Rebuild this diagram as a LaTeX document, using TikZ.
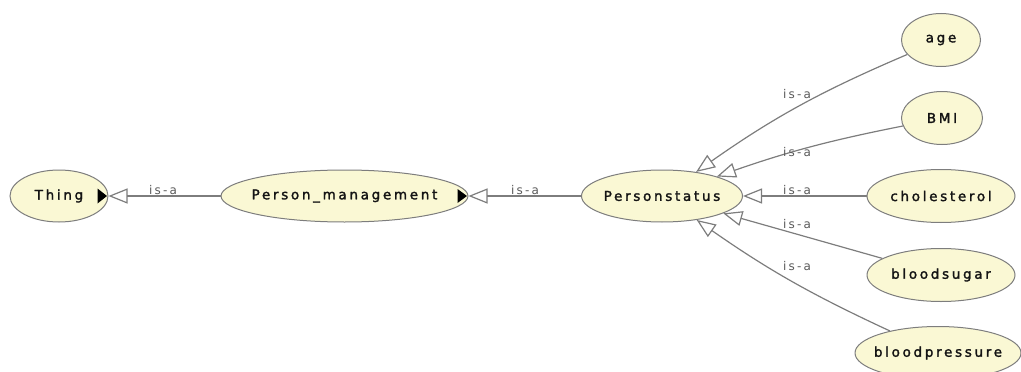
\documentclass[tikz,border=0pt]{standalone}
\usepackage{fontspec}
\usetikzlibrary{arrows.meta,shapes.geometric}
\newfontfamily\nodefont[LetterSpace=20,FakeBold=1.8]{DejaVu Sans}
\newfontfamily\labfont[LetterSpace=18]{DejaVu Sans}
\newcommand{\nt}[1]{\makebox[0pt]{#1}}
\definecolor{nodefill}{RGB}{250,248,212}
\definecolor{nodeborder}{RGB}{125,125,125}
\definecolor{edgecol}{RGB}{125,125,125}
\definecolor{nodetext}{RGB}{20,20,20}
\definecolor{labcol}{RGB}{90,90,90}
\begin{document}
\begin{tikzpicture}[x=1pt,y=-1pt,
  cls/.style={ellipse, draw=nodeborder, fill=nodefill, line width=1pt, inner sep=0pt,
    font=\nodefont\fontsize{13.5}{15}\selectfont, text=nodetext},
  isa/.style={draw=edgecol, line width=1.2pt,
    -{Triangle[open,length=19pt,width=15pt,fill=white]}},
  lab/.style={font=\labfont\fontsize{12}{14}\selectfont, text=labcol, inner sep=0pt},
  moremark/.style={fill=black, draw=none}]
\useasboundingbox (0,0) rectangle (1021,372);
\clip (0,0) rectangle (1021,372);
% nodes
\node[cls, minimum width=98pt, minimum height=52pt] (thing) at (59,196) {\nt{Thing}};
\node[cls, minimum width=247pt, minimum height=52pt] (pm) at (344.5,196) {\nt{Person\_management}};
\node[cls, minimum width=161pt, minimum height=52pt] (ps) at (662,196) {\nt{Personstatus}};
\node[cls, minimum width=79pt, minimum height=53pt] (age) at (941,40) {\nt{age}};
\node[cls, minimum width=81pt, minimum height=53pt] (bmi) at (942,118) {\nt{BMI}};
\node[cls, minimum width=148pt, minimum height=53pt] (chol) at (941,196) {\nt{cholesterol}};
\node[cls, minimum width=148pt, minimum height=53pt] (sugar) at (941,275) {\nt{bloodsugar}};
\node[cls, minimum width=166pt, minimum height=53pt] (press) at (938,353) {\nt{bloodpressure}};
% expand markers
\fill[moremark] ([xshift=-11pt,yshift=7.5pt]thing.east) -- ++(0,15) -- ++(9.5,-7.5) -- cycle;
\fill[moremark] ([xshift=-11pt,yshift=7pt]pm.east) -- ++(0,14) -- ++(9.5,-7) -- cycle;
% edges
\draw[isa] (pm) -- (thing);
\draw[isa] (ps) -- (pm);
\draw[isa] (age) to[bend right=6] (ps);
\draw[isa] (bmi) to[bend right=4] (ps);
\draw[isa] (chol) -- (ps);
\draw[isa] (sugar) -- (ps);
\draw[isa] (press) to[bend left=5] (ps);
% labels
\node[lab] (l1) at (163,190) {is-a};
\node[lab] (l2) at (525,190) {is-a};
\node[lab] (l3) at (797,94) {is-a};
\node[lab] (l4) at (797,152) {is-a};
\node[lab] (l5) at (797,190) {is-a};
\node[lab] (l6) at (797,224) {is-a};
\node[lab] (l7) at (797,266) {is-a};
\end{tikzpicture}
\end{document}
